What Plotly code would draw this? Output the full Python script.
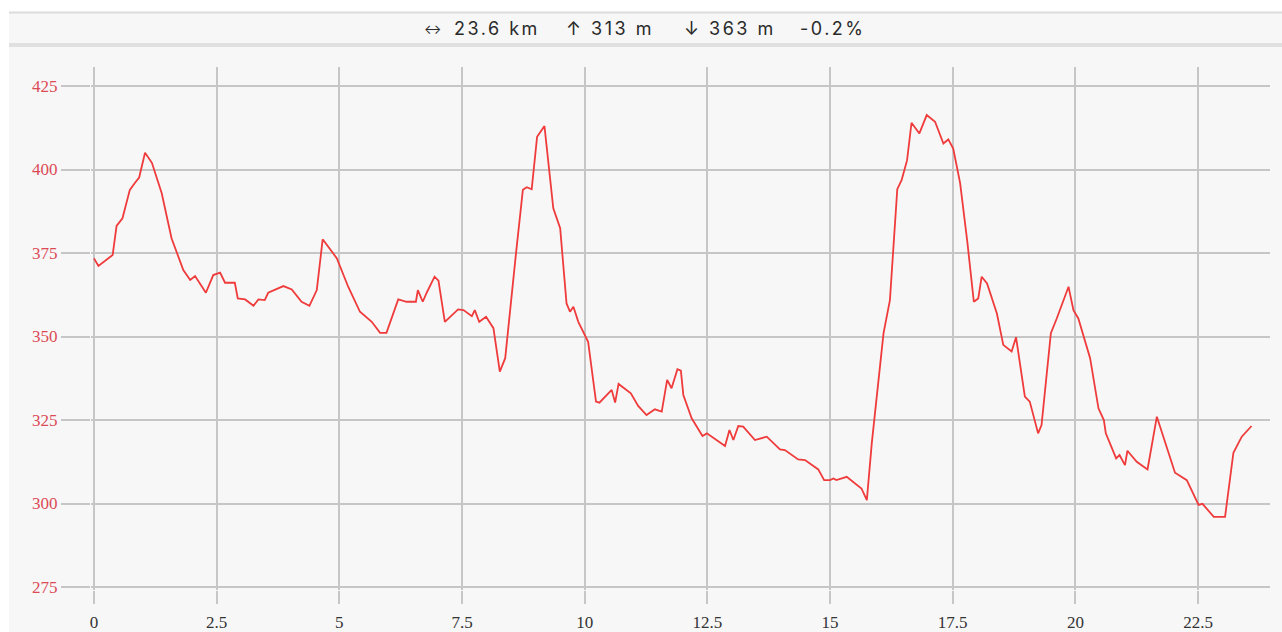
import plotly.graph_objects as go

# distance along track (km) and elevation (m)
km = [0, 0.09, 0.38, 0.46, 0.58, 0.73, 0.84, 0.92, 1.04, 1.18,
      1.38, 1.58, 1.82, 1.96, 2.06, 2.28, 2.43, 2.57, 2.67, 2.87,
      2.93, 3.08, 3.25, 3.35, 3.48, 3.55, 3.86, 4.03, 4.23, 4.39,
      4.54, 4.66, 4.95, 5.18, 5.42, 5.66, 5.83, 5.96, 6.20, 6.37,
      6.56, 6.60, 6.70, 6.78, 6.94, 7.02, 7.15, 7.42, 7.53, 7.70,
      7.76, 7.85, 7.99, 8.14, 8.27, 8.38, 8.60, 8.74, 8.82, 8.92,
      9.03, 9.18, 9.36, 9.50, 9.63, 9.70, 9.77, 9.87, 10.07, 10.23,
      10.30, 10.55, 10.62, 10.69, 10.94, 11.09, 11.26, 11.43, 11.57, 11.68,
      11.77, 11.89, 11.96, 12.01, 12.18, 12.40, 12.49, 12.86, 12.95, 13.03,
      13.13, 13.23, 13.47, 13.71, 13.98, 14.08, 14.35, 14.49, 14.76, 14.88,
      15.00, 15.07, 15.13, 15.34, 15.64, 15.75, 15.85, 16.09, 16.22, 16.37,
      16.46, 16.57, 16.66, 16.82, 16.97, 17.14, 17.31, 17.41, 17.51, 17.65,
      17.80, 17.93, 18.02, 18.09, 18.20, 18.40, 18.53, 18.70, 18.79, 18.97,
      19.07, 19.24, 19.31, 19.50, 19.62, 19.86, 19.96, 20.06, 20.30, 20.47,
      20.58, 20.62, 20.83, 20.90, 21.01, 21.06, 21.25, 21.47, 21.66, 22.03,
      22.27, 22.51, 22.59, 22.82, 23.05, 23.22, 23.39, 23.59]

elevation = [373.4, 371.1, 374.4, 383.1, 385.4, 393.9, 396.1, 397.6, 405.0, 402.0,
             392.9, 379.4, 369.9, 366.9, 368.1, 363.1, 368.4, 369.1, 366.1, 366.1,
             361.4, 361.1, 359.2, 361.1, 360.9, 363.1, 365.1, 364.1, 360.4, 359.2,
             363.9, 379.1, 373.4, 364.9, 357.4, 354.4, 351.1, 351.1, 361.1, 360.4,
             360.4, 363.9, 360.4, 363.1, 367.9, 366.7, 354.4, 358.1, 357.9, 356.1,
             357.9, 354.4, 355.9, 352.5, 339.5, 343.5, 374.9, 393.9, 394.7, 394.1,
             409.8, 413.0, 388.4, 382.4, 359.9, 357.4, 358.9, 354.4, 348.4, 330.5,
             330.2, 334.0, 330.2, 335.8, 333.0, 329.2, 326.5, 328.2, 327.5, 337.0,
             334.5, 340.2, 339.8, 332.5, 325.5, 320.2, 321.0, 317.2, 322.0, 319.0,
             323.2, 323.0, 319.0, 320.0, 316.2, 316.0, 313.2, 313.0, 310.2, 307.0,
             307.0, 307.5, 307.0, 308.0, 304.5, 301.0, 318.0, 351.0, 360.9, 394.1,
             396.9, 402.8, 414.0, 410.8, 416.3, 414.3, 407.8, 409.0, 406.3, 396.0,
             378.0, 360.4, 361.4, 367.9, 365.9, 356.9, 347.5, 345.5, 349.8, 332.0,
             330.5, 321.0, 323.5, 351.0, 355.4, 364.9, 357.9, 355.4, 343.5, 328.5,
             325.0, 321.0, 313.5, 314.5, 311.5, 315.8, 312.5, 310.2, 326.0, 309.2,
             307.0, 299.6, 299.9, 296.0, 296.0, 315.2, 320.0, 323.2]

x_ticks = [0, 2.5, 5, 7.5, 10, 12.5, 15, 17.5, 20, 22.5]
x_tick_labels = ["0", "2.5", "5", "7.5", "10", "12.5", "15", "17.5", "20", "22.5"]
y_ticks = [275, 300, 325, 350, 375, 400, 425]
y_tick_labels = ["275", "300", "325", "350", "375", "400", "425"]

# header summary pieces (text, centre x in px)
header_parts = ["23.6\u00a0km", "↑\u00a0313\u00a0m", "↓\u00a0363\u00a0m", "-0.2%"]
header_centres = [496.5, 610, 730, 833]

W, H = 1282, 632
# pixel geometry of the reference
X0_PX, KM_PX = 94.0, 49.07          # x=0 position, px per km
Y275_PX, M_PX = 587.0, 3.34         # y=275 position, px per metre
L, R, T, B = 91, 1270, 67, 590      # plot area edges
GRID = "#c6c6c6"
PANEL = "#f7f7f7"

x_range = [(L - X0_PX) / KM_PX, (R - X0_PX) / KM_PX]
y_range = [275 - (B - Y275_PX) / M_PX, 275 + (Y275_PX - T) / M_PX]


def px_x(p):
    return (p - L) / (R - L)


def px_y(p):
    return (B - p) / (B - T)


fig = go.Figure()
fig.add_trace(go.Scatter(x=km, y=elevation, mode="lines",
                         line=dict(color="#ef3b3b", width=1.8),
                         hoverinfo="x+y", showlegend=False))

shapes = [
    dict(type="rect", xref="paper", yref="paper", layer="below",
         x0=px_x(9), x1=px_x(W + 5), y0=px_y(H + 5), y1=px_y(12),
         fillcolor=PANEL, line=dict(width=0)),
    dict(type="rect", xref="paper", yref="paper", layer="below",
         x0=px_x(9), x1=px_x(W + 5), y0=px_y(13.5), y1=px_y(11.5),
         fillcolor="#dcdcdc", line=dict(width=0)),
    dict(type="rect", xref="paper", yref="paper", layer="below",
         x0=px_x(9), x1=px_x(W + 5), y0=px_y(47), y1=px_y(43),
         fillcolor="#e0e0e0", line=dict(width=0)),
]

hfont = dict(family="Inter, Roboto, sans-serif", size=18, color="#2a2a2a")
annotations = [dict(text="↔", xref="paper", yref="paper", x=px_x(432), y=px_y(29),
                    xanchor="center", yanchor="middle", showarrow=False,
                    font=dict(family="Inter, Roboto, sans-serif", size=13, color="#2a2a2a"))]
for txt, cx in zip(header_parts, header_centres):
    annotations.append(dict(text='<span style="letter-spacing:2.5px">' + txt + '</span>',
                            xref="paper", yref="paper", x=px_x(cx), y=px_y(28.5),
                            xanchor="center", yanchor="middle", showarrow=False,
                            font=hfont))

fig.update_layout(
    width=W, height=H,
    margin=dict(l=L, r=W - R, t=T, b=H - B, pad=0, autoexpand=False),
    paper_bgcolor="white", plot_bgcolor=PANEL,
    shapes=shapes,
    annotations=annotations,
    xaxis=dict(range=x_range, tickvals=x_ticks, ticktext=x_tick_labels,
               automargin=False,
               showgrid=True, gridcolor=GRID, gridwidth=1.6,
               zeroline=False, showline=False,
               ticks="outside", ticklen=13, tickwidth=1.6, tickcolor=GRID,
               ticklabelstandoff=4,
               tickfont=dict(family="Liberation Serif, serif", size=17, color="#333333"),
               fixedrange=True),
    yaxis=dict(range=y_range, tickvals=y_ticks, ticktext=y_tick_labels,
               automargin=False,
               showgrid=True, gridcolor=GRID, gridwidth=1.6,
               zeroline=False, showline=False,
               ticks="outside", ticklen=29, tickwidth=1.6, tickcolor=GRID,
               tickfont=dict(family="Liberation Serif, serif", size=17, color="#dc4a55"),
               fixedrange=True),
)

fig.write_html("out.html", config={"displayModeBar": False},
               post_script="document.body.style.margin='0';document.body.style.overflow='hidden';")
